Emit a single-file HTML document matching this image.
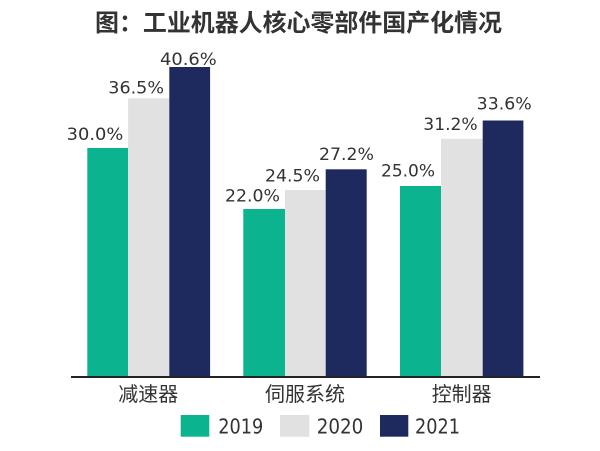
<!DOCTYPE html>
<html><head><meta charset="utf-8"><style>
html,body{margin:0;padding:0;background:#fff;}
svg{display:block;}
</style></head><body>
<svg width="600" height="451" viewBox="0 0 600 451" xmlns="http://www.w3.org/2000/svg">
<rect width="600" height="451" fill="#fff"/>
<text x="298.5" y="31" text-anchor="middle" font-family="'Liberation Sans','Noto Sans CJK SC',sans-serif" font-size="24" font-weight="bold" fill="#333" textLength="407" lengthAdjust="spacingAndGlyphs">图：工业机器人核心零部件国产化情况</text>
<g>
<rect x="87.3" y="148" width="40.8" height="229" fill="#0bb38e"/>
<rect x="128.1" y="98.3" width="41.2" height="278.7" fill="#e1e1e1"/>
<rect x="169.3" y="67" width="40.8" height="310" fill="#1e2a5e"/>
<rect x="243.3" y="209" width="41.7" height="168" fill="#0bb38e"/>
<rect x="285" y="190" width="40.7" height="187" fill="#e1e1e1"/>
<rect x="325.7" y="169.3" width="41" height="207.7" fill="#1e2a5e"/>
<rect x="400" y="186" width="41" height="191" fill="#0bb38e"/>
<rect x="441" y="138.8" width="41.7" height="238.2" fill="#e1e1e1"/>
<rect x="482.7" y="120.5" width="40.7" height="256.5" fill="#1e2a5e"/>
</g>
<rect x="71" y="376" width="469" height="2" fill="#222"/>
<g font-family="'DejaVu Sans','Liberation Sans',sans-serif" font-size="17" fill="#333" lengthAdjust="spacingAndGlyphs">
<text x="66.7" y="140" textLength="56.6" lengthAdjust="spacingAndGlyphs">30.0%</text>
<text x="108.3" y="93.3" textLength="55.7" lengthAdjust="spacingAndGlyphs">36.5%</text>
<text x="160" y="65" textLength="56.7" lengthAdjust="spacingAndGlyphs">40.6%</text>
<text x="225" y="201.7" textLength="55" lengthAdjust="spacingAndGlyphs">22.0%</text>
<text x="265" y="181.7" textLength="55" lengthAdjust="spacingAndGlyphs">24.5%</text>
<text x="319" y="160" textLength="55" lengthAdjust="spacingAndGlyphs">27.2%</text>
<text x="381" y="176.7" textLength="54" lengthAdjust="spacingAndGlyphs">25.0%</text>
<text x="423.3" y="130" textLength="54.4" lengthAdjust="spacingAndGlyphs">31.2%</text>
<text x="476.7" y="109.3" textLength="55" lengthAdjust="spacingAndGlyphs">33.6%</text>
</g>
<g font-family="'Liberation Sans','Noto Sans CJK SC',sans-serif" font-size="20" fill="#333" text-anchor="middle">
<text x="148.3" y="401">减速器</text>
<text x="305" y="401">伺服系统</text>
<text x="461.7" y="401">控制器</text>
</g>
<rect x="180.7" y="415" width="28.6" height="21.7" fill="#0bb38e"/>
<rect x="280" y="415" width="29.3" height="21.7" fill="#e1e1e1"/>
<rect x="380" y="415" width="28.3" height="21.7" fill="#1e2a5e"/>
<g font-family="'DejaVu Sans','Liberation Sans',sans-serif" font-size="20" fill="#333">
<text x="218.3" y="433.3" textLength="45" lengthAdjust="spacingAndGlyphs">2019</text>
<text x="316.7" y="433.3" textLength="46.6" lengthAdjust="spacingAndGlyphs">2020</text>
<text x="415" y="433.3" textLength="45" lengthAdjust="spacingAndGlyphs">2021</text>
</g>
</svg>
</body></html>
